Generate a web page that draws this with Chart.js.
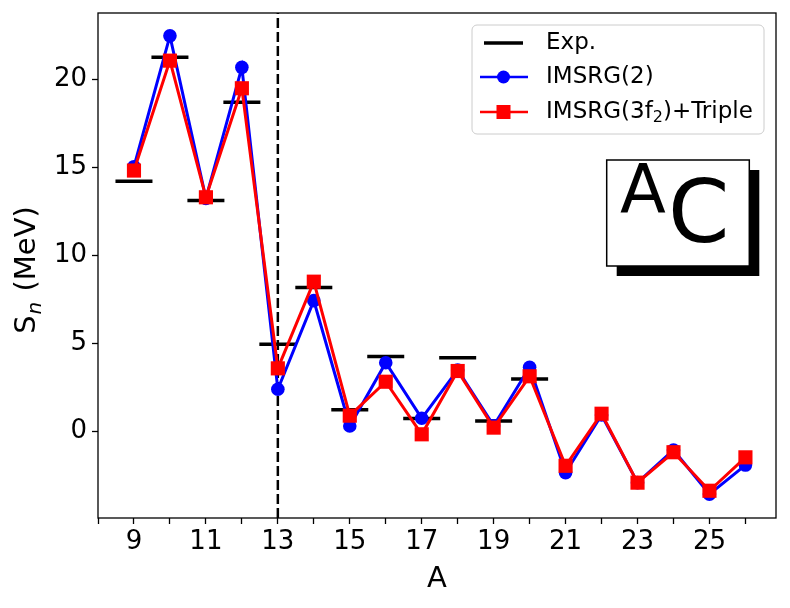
<!DOCTYPE html>
<html>
<head>
<meta charset="utf-8">
<script src="https://cdn.jsdelivr.net/npm/chart.js@4/dist/chart.umd.min.js"></script>
<style>
  html, body { margin: 0; padding: 0; background: #ffffff; }
  #wrap { width: 790px; height: 608px; }
</style>
</head>
<body>
<div id="wrap"><canvas id="c" width="790" height="608"></canvas></div>
<script>
// ---- data ----
const massNumbers = [9, 10, 11, 12, 13, 14, 15, 16, 17, 18, 19, 20, 21, 22, 23, 24, 25, 26];
const expSn = [14.22, 21.28, 13.12, 18.72, 4.95, 8.18, 1.22, 4.25, 0.73, 4.18, 0.58, 2.98, null, null, null, null, null, null];
const imsrg2Sn = [15.05, 22.49, 13.25, 20.70, 2.39, 7.43, 0.30, 3.90, 0.74, 3.49, 0.32, 3.64, -2.35, 0.93, -2.92, -1.06, -3.57, -1.92];
const tripleSn = [14.83, 21.08, 13.31, 19.51, 3.58, 8.51, 0.89, 2.82, -0.17, 3.43, 0.21, 3.13, -1.96, 1.00, -2.92, -1.19, -3.38, -1.48];
const seriesNames = ['Exp.', 'IMSRG(2)', 'IMSRG(3f', '2', ')+Triple'];
const xTickValues = [8, 9, 10, 11, 12, 13, 14, 15, 16, 17, 18, 19, 20, 21, 22, 23, 24, 25, 26];
const yTickValues = [0, 5, 10, 15, 20];
const xRange = [8, 26.85];
const yRange = [-4.93, 23.79];
const dividerA = 13;
const xTitle = 'A';
const yTitleParts = ['S', 'n', ' (MeV)'];
const elementLabel = ['A', 'C'];

const FONT = 'DejaVu Sans';

function pts(vals) { return massNumbers.map((a, i) => ({ x: a, y: vals[i] })); }

const overlay = {
  id: 'overlay',
  afterDraw(chart) {
    const ctx = chart.ctx;
    const ca = chart.chartArea;
    ctx.save();
    // frame
    ctx.strokeStyle = '#000';
    ctx.lineWidth = 1.3;
    ctx.strokeRect(ca.left, ca.top, ca.right - ca.left, ca.bottom - ca.top);

    // y title
    ctx.save();
    ctx.translate(27, 270);
    ctx.rotate(-Math.PI / 2);
    ctx.fillStyle = '#000';
    ctx.textBaseline = 'alphabetic';
    const fMain = '29px "' + FONT + '"';
    const fSub = 'italic 20px "' + FONT + '"';
    ctx.font = fMain; const w1 = ctx.measureText(yTitleParts[0]).width;
    ctx.font = fSub; const w2 = ctx.measureText(yTitleParts[1]).width;
    ctx.font = fMain; const w3 = ctx.measureText(yTitleParts[2]).width;
    let x0 = -(w1 + w2 + w3 + 2) / 2;
    const base = 8;
    ctx.font = fMain; ctx.fillText(yTitleParts[0], x0, base);
    ctx.font = fSub; ctx.fillText(yTitleParts[1], x0 + w1 + 1, base + 6);
    ctx.font = fMain; ctx.fillText(yTitleParts[2], x0 + w1 + w2 + 2, base);
    ctx.restore();

    // x title
    ctx.fillStyle = '#000';
    ctx.font = '29px "' + FONT + '"';
    ctx.textAlign = 'center';
    ctx.textBaseline = 'alphabetic';
    ctx.fillText(xTitle, (ca.left + ca.right) / 2, 587);
    ctx.textAlign = 'left';

    // legend
    const lx = 472, ly = 25, lw = 292, lh = 109, r = 5;
    ctx.beginPath();
    ctx.moveTo(lx + r, ly);
    ctx.arcTo(lx + lw, ly, lx + lw, ly + lh, r);
    ctx.arcTo(lx + lw, ly + lh, lx, ly + lh, r);
    ctx.arcTo(lx, ly + lh, lx, ly, r);
    ctx.arcTo(lx, ly, lx + lw, ly, r);
    ctx.closePath();
    ctx.fillStyle = 'rgba(255,255,255,0.8)';
    ctx.fill();
    ctx.strokeStyle = '#cccccc';
    ctx.lineWidth = 1;
    ctx.stroke();

    const rows = [43, 77, 112];
    // Exp
    ctx.strokeStyle = '#000'; ctx.lineWidth = 3.5;
    ctx.beginPath(); ctx.moveTo(484, rows[0]); ctx.lineTo(523, rows[0]); ctx.stroke();
    // IMSRG(2)
    ctx.strokeStyle = 'blue'; ctx.lineWidth = 2.5;
    ctx.beginPath(); ctx.moveTo(480, rows[1]); ctx.lineTo(528, rows[1]); ctx.stroke();
    ctx.fillStyle = 'blue';
    ctx.beginPath(); ctx.arc(503.5, rows[1], 6.5, 0, Math.PI * 2); ctx.fill();
    // Triple
    ctx.strokeStyle = 'red';
    ctx.beginPath(); ctx.moveTo(480, rows[2]); ctx.lineTo(528, rows[2]); ctx.stroke();
    ctx.fillStyle = 'red';
    ctx.fillRect(503.5 - 7, rows[2] - 7, 14, 14);

    ctx.fillStyle = '#000';
    ctx.textBaseline = 'middle';
    const fL = '23px "' + FONT + '"';
    const fLs = '16px "' + FONT + '"';
    ctx.font = fL;
    ctx.fillText(seriesNames[0], 546, rows[0]);
    ctx.fillText(seriesNames[1], 546, rows[1]);
    let tx = 546;
    ctx.fillText(seriesNames[2], tx, rows[2]); tx += ctx.measureText(seriesNames[2]).width;
    ctx.font = fLs; ctx.fillText(seriesNames[3], tx, rows[2] + 6); tx += ctx.measureText(seriesNames[3]).width;
    ctx.font = fL; ctx.fillText(seriesNames[4], tx, rows[2]);

    // element box with shadow
    ctx.fillStyle = '#000';
    ctx.fillRect(616.7, 170, 142.6, 106);
    ctx.fillStyle = '#fff';
    ctx.fillRect(606.7, 160, 142.6, 106);
    ctx.strokeStyle = '#000'; ctx.lineWidth = 1.5;
    ctx.strokeRect(606.7, 160, 142.6, 106);
    ctx.fillStyle = '#000';
    ctx.textBaseline = 'alphabetic';
    ctx.font = '67px "' + FONT + '"';
    ctx.fillText(elementLabel[0], 620, 213);
    ctx.font = '88px "' + FONT + '"';
    ctx.fillText(elementLabel[1], 668, 242);
    ctx.restore();
  }
};

new Chart(document.getElementById('c'), {
  type: 'line',
  data: {
    datasets: [
      {
        label: 'IMSRG(3f2)+Triple',
        data: pts(tripleSn),
        borderColor: 'red', backgroundColor: 'red',
        borderWidth: 3,
        pointStyle: 'rect', pointRadius: 10,
        pointBackgroundColor: 'red', pointBorderColor: 'red', pointBorderWidth: 0,
        order: 1
      },
      {
        label: 'IMSRG(2)',
        data: pts(imsrg2Sn),
        borderColor: 'blue', backgroundColor: 'blue',
        borderWidth: 3,
        pointStyle: 'circle', pointRadius: 6.8,
        pointBackgroundColor: 'blue', pointBorderColor: 'blue', pointBorderWidth: 0,
        order: 2
      },
      {
        label: 'Exp.',
        data: pts(expSn),
        showLine: false,
        pointStyle: 'line', pointRadius: 18.5,
        pointBorderColor: '#000', pointBorderWidth: 3.5,
        borderColor: '#000',
        order: 3
      },
      {
        label: 'divider',
        data: [{ x: dividerA, y: yRange[0] }, { x: dividerA, y: yRange[1] }],
        borderColor: '#000', borderWidth: 2.5, borderDash: [10, 4],
        pointRadius: 0,
        order: 4
      }
    ]
  },
  options: {
    responsive: false,
    animation: false,
    devicePixelRatio: 1,
    layout: { autoPadding: false, padding: { top: 13, right: 14, left: 0, bottom: 0 } },
    plugins: { legend: { display: false }, tooltip: { enabled: false } },
    scales: {
      x: {
        type: 'linear',
        min: xRange[0], max: xRange[1],
        afterBuildTicks: s => { s.ticks = xTickValues.map(v => ({ value: v })); },
        afterFit: s => { s.height = 90; s.paddingLeft = 0; s.paddingRight = 0; },
        ticks: {
          autoSkip: false, maxRotation: 0, padding: 3, color: '#000',
          font: { family: FONT, size: 26 },
          callback: v => (v % 2 === 1 ? String(v) : '')
        },
        grid: { drawOnChartArea: false, tickLength: 6, color: '#000', tickWidth: 1.3 },
        border: { display: false }
      },
      y: {
        type: 'linear',
        min: yRange[0], max: yRange[1],
        afterBuildTicks: s => { s.ticks = yTickValues.map(v => ({ value: v })); },
        afterFit: s => { s.width = 98; s.paddingTop = 0; s.paddingBottom = 0; },
        ticks: {
          padding: 5, color: '#000',
          font: { family: FONT, size: 26 },
          callback: v => String(v)
        },
        grid: { drawOnChartArea: false, tickLength: 6, color: '#000', tickWidth: 1.3 },
        border: { display: false }
      }
    }
  },
  plugins: [overlay]
});
</script>
</body>
</html>
